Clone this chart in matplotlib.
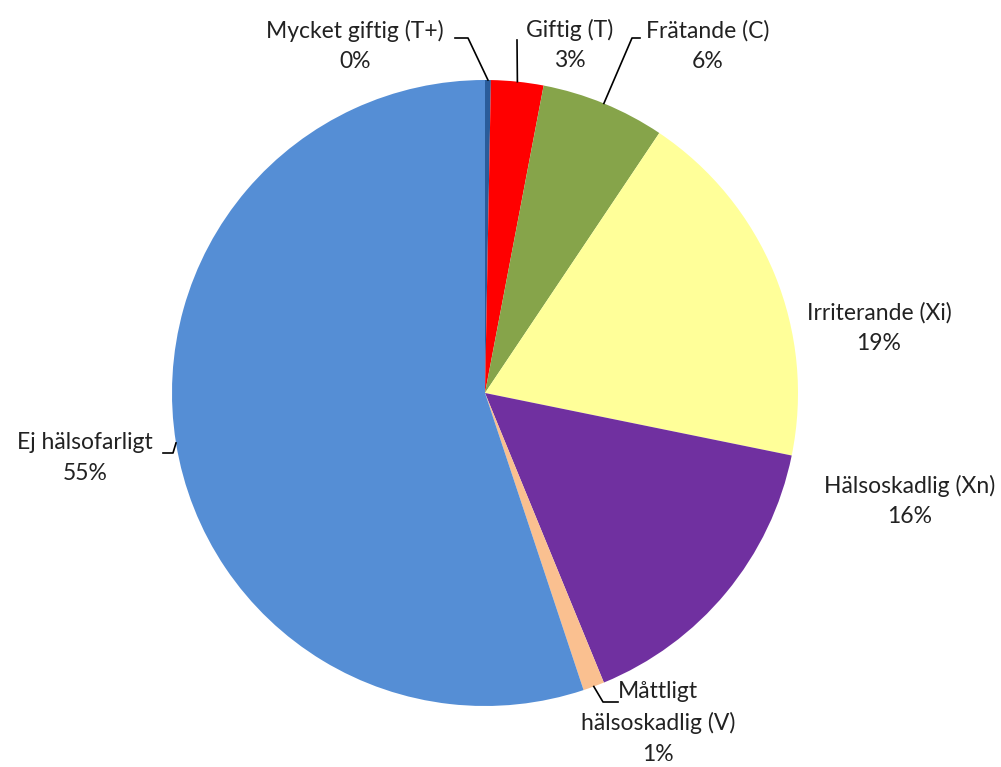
import numpy as np
import matplotlib.pyplot as plt

plt.rcParams["font.family"] = ["Lato", "DejaVu Sans"]

labels = ["Mycket giftig (T+)", "Giftig (T)", "Frätande (C)", "Irriterande (Xi)",
          "Hälsoskadlig (Xn)", "Måttligt\nhälsoskadlig (V)", "Ej hälsofarligt"]
shares = [0.3, 2.7, 6.4, 18.8, 15.6, 1.1, 55.1]
pct_text = ["0%", "3%", "6%", "19%", "16%", "1%", "55%"]
colors = ["#2A5C9A", "#FF0000", "#86A44A", "#FFFF99", "#7030A0", "#FAC090", "#558ED5"]

# label centres in pixels of the 1001x767 picture, and leader line elbows
label_px = [(355, 46), (570, 45), (708, 46), (879, 328), (910, 501), (658, 723), (85, 458)]
elbow_px = [(468, 38), None, (632, 38), None, None, (603, 702), (173, 453)]
end_px = [(455, 38), (517, 40), (640, 38), None, None, (618, 702), (163, 453)]

W, H = 1001, 767
cx, cy, R = 485, 393, 313


def to_data(p):
    return ((p[0] - cx) / R, (cy - p[1]) / R)


fig = plt.figure(figsize=(W / 100, H / 100), dpi=100)
ax = fig.add_axes([0, 0, 1, 1])
wedges, _ = ax.pie(shares, colors=colors, startangle=90, counterclock=False,
                   radius=1, center=(0, 0), wedgeprops=dict(linewidth=0))
ax.set_xlim(-cx / R, (W - cx) / R)
ax.set_ylim(-(H - cy) / R, cy / R)
ax.set_aspect("equal")
ax.axis("off")

for i, w in enumerate(wedges):
    x, y = to_data(label_px[i])
    ax.text(x, y, f"{labels[i]}\n{pct_text[i]}", ha="center", va="center",
            fontsize=16.5, color="#222222", linespacing=1.55)
    if end_px[i] is None:
        continue
    mid = np.deg2rad((w.theta1 + w.theta2) / 2)
    pts = [(np.cos(mid), np.sin(mid))]
    if elbow_px[i] is not None:
        pts.append(to_data(elbow_px[i]))
    pts.append(to_data(end_px[i]))
    xs, ys = zip(*pts)
    ax.plot(xs, ys, color="black", lw=1.2)

fig.savefig("out.png", dpi=100)
